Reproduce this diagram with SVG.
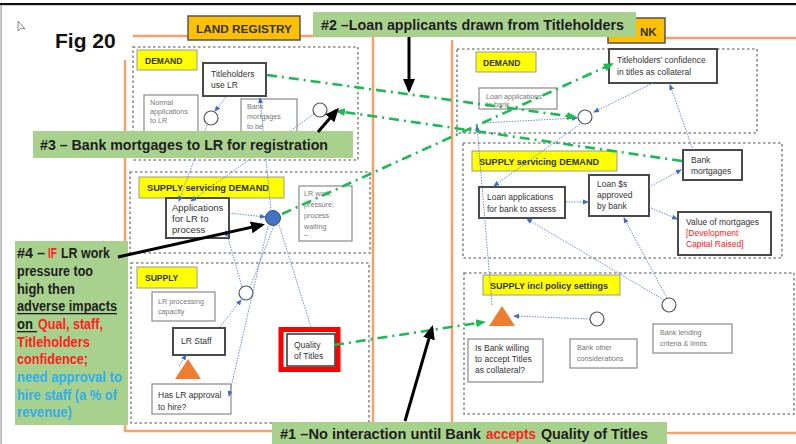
<svg xmlns="http://www.w3.org/2000/svg" width="796" height="444" viewBox="0 0 796 444">
<style>
text{font-family:"Liberation Sans",Arial,sans-serif;}
.frame{stroke:#F4A070;stroke-width:2.5;fill:none;}
.grp{fill:none;stroke:#8a8a8a;stroke-width:1.6;stroke-dasharray:2.5 2.5;}
.ylab{fill:#FFFF00;stroke:#9a9a9a;stroke-width:1;}
.ylt{font-size:8.5px;font-weight:bold;fill:#333;}
.thick{fill:#fff;stroke:#4a4a4a;stroke-width:2;}
.thin{fill:#fff;stroke:#8a8a8a;stroke-width:1.2;}
.nt{font-size:8.5px;fill:#333;}
.gt{font-size:7.2px;fill:#777;}
.circ{fill:#fff;stroke:#555;stroke-width:1.2;}
.blue{fill:none;stroke:#5B82D0;stroke-width:0.9;stroke-dasharray:1.5 1.2;marker-end:url(#mb);}
.bluen{fill:none;stroke:#5B82D0;stroke-width:0.9;stroke-dasharray:1.5 1.2;}
.green{fill:none;stroke:#1DB954;stroke-width:2.6;stroke-dasharray:10 5 2 5;marker-end:url(#mg);}
.ann{fill:#A9D18E;}
.at{font-size:15px;font-weight:bold;fill:#1e1e1e;}
.a4{font-size:14px;font-weight:bold;fill:#1e1e1e;}
.red{fill:#FF2020;}
.cyan{fill:#33AEEA;}
.blk{stroke:#000;stroke-width:3;fill:none;marker-end:url(#mk);}
.tri{fill:#ED7D31;}
.hdr{fill:#FFC000;stroke:#555;stroke-width:1.5;}
</style>
<defs>
<marker id="mb" markerWidth="6" markerHeight="6" refX="5" refY="3" orient="auto" markerUnits="userSpaceOnUse"><path d="M0,0.5 L6,3 L0,5.5 Z" fill="#3C6CD0"/></marker>
<marker id="mg" markerWidth="10" markerHeight="10" refX="8" refY="5" orient="auto" markerUnits="userSpaceOnUse"><path d="M0,1 L10,5 L0,9 Z" fill="#1DB954"/></marker>
<marker id="mk" markerWidth="14" markerHeight="14" refX="11" refY="7" orient="auto" markerUnits="userSpaceOnUse"><path d="M0,1 L14,7 L0,13 Z" fill="#000"/></marker>
</defs>
<rect width="796" height="444" fill="#fff"/>
<rect x="0" y="3" width="796" height="2.2" fill="#111"/>
<rect x="0.5" y="5" width="1.2" height="439" fill="#9a9a9a"/>
<path d="M18,21 L18,31 L21,28 L25,29 Z" fill="#fff" stroke="#888" stroke-width="1"/>
<text x="55" y="48" font-size="21" font-weight="bold" fill="#111">Fig 20</text>

<g id="frames">
<path class="frame" d="M133,36 L373,36 L373,431 L125,431 L125,60"/>
<path class="frame" d="M452,40 L452,433 M665,38 L796,38 M667,433 L796,433"/>
</g>

<g id="land-registry-header"><rect class="hdr" x="188" y="16" width="112" height="24"/><text x="244" y="33" font-size="11.5" font-weight="bold" fill="#333" text-anchor="middle" textLength="96" lengthAdjust="spacingAndGlyphs">LAND REGISTRY</text></g>
<g id="bank-header"><rect class="hdr" x="608" y="18" width="57" height="25"/><text x="640" y="36" font-size="11.5" font-weight="bold" fill="#333">NK</text></g>

<!-- groups -->
<g id="lr-demand"><rect class="grp" x="133" y="47" width="225" height="113"/><rect class="ylab" x="137" y="50" width="60" height="20"/><text class="ylt" x="145" y="64">DEMAND</text></g>
<g id="lr-supply-servicing"><rect class="grp" x="130" y="172" width="240" height="81"/><rect class="ylab" x="139" y="177" width="145" height="21"/><text class="ylt" x="147" y="191" textLength="122" lengthAdjust="spacingAndGlyphs">SUPPLY servicing DEMAND</text></g>
<g id="lr-supply"><rect class="grp" x="131" y="263" width="238" height="160"/><rect class="ylab" x="137" y="267" width="60" height="21"/><text class="ylt" x="145" y="281">SUPPLY</text></g>
<g id="bank-demand"><rect class="grp" x="457" y="49" width="300" height="84"/><rect class="ylab" x="476" y="52" width="60" height="20"/><text class="ylt" x="483" y="66">DEMAND</text></g>
<g id="bank-supply-servicing"><rect class="grp" x="463" y="143" width="319" height="115"/><rect class="ylab" x="472" y="151" width="145" height="20"/><text class="ylt" x="479" y="165" textLength="120" lengthAdjust="spacingAndGlyphs">SUPPLY servicing DEMAND</text></g>
<g id="bank-supply-policy"><rect class="grp" x="464" y="273" width="330" height="141"/><rect class="ylab" x="483" y="275" width="137" height="20"/><text class="ylt" x="490" y="289" textLength="118" lengthAdjust="spacingAndGlyphs">SUPPLY incl policy settings</text></g>

<!-- LR nodes -->
<g id="titleholders-use-lr"><rect class="thick" x="203" y="63" width="63" height="33"/><text class="nt" x="211" y="77">Titleholders</text><text class="nt" x="211" y="88">use LR</text></g>
<g id="normal-applications"><rect class="thin" x="144" y="95" width="54" height="42"/><text class="gt" x="150" y="105">Normal</text><text class="gt" x="150" y="114">applications</text><text class="gt" x="150" y="123">to LR</text></g>
<g id="bank-mortgages-lr"><rect class="thin" x="241" y="99" width="56" height="38"/><text class="gt" x="247" y="109">Bank</text><text class="gt" x="247" y="119">mortgages</text><text class="gt" x="247" y="129">to be</text></g>
<g id="c-lr-1"><circle class="circ" cx="211" cy="118" r="7"/></g>
<g id="c-lr-2"><circle class="circ" cx="320" cy="110" r="7"/></g>
<g id="applications-lr"><rect class="thick" x="166" y="198" width="63" height="40"/><text x="172" y="211" font-size="9.5" fill="#333">Applications</text><text x="172" y="222" font-size="9.5" fill="#333">for LR to</text><text x="172" y="233" font-size="9.5" fill="#333">process</text></g>
<g id="work-pressure-circle"><circle cx="273" cy="218" r="7.5" fill="#4472C4" stroke="#2F528F" stroke-width="1"/></g>
<g id="lr-work-pressure"><rect class="thin" x="299" y="186" width="53" height="55"/><text class="gt" x="304" y="196">LR work</text><text class="gt" x="304" y="207">pressure;</text><text class="gt" x="304" y="218">process</text><text class="gt" x="304" y="229">waiting</text><text class="gt" x="304" y="237">–</text></g>
<g id="lr-processing-capacity"><rect class="thin" x="152" y="292" width="63" height="29"/><text class="gt" x="158" y="304">LR processing</text><text class="gt" x="158" y="314">capacity</text></g>
<g id="c-lr-3"><circle class="circ" cx="246" cy="293" r="7"/></g>
<g id="lr-staff"><rect class="thick" x="173" y="328" width="52" height="27"/><text class="nt" x="181" y="344">LR Staff</text></g>
<g id="lr-triangle"><polygon class="tri" points="188,359 175,379 201,379"/></g>
<g id="has-lr-approval"><rect class="thin" x="152" y="384" width="79" height="30"/><text class="nt" x="158" y="398">Has LR approval</text><text class="nt" x="158" y="410">to hire?</text></g>
<g id="quality-of-titles"><rect x="281" y="329.5" width="57" height="40" fill="#fff" stroke="#FF0000" stroke-width="5"/><rect x="287" y="334" width="48" height="32" fill="none" stroke="#333" stroke-width="1.5"/><text class="nt" x="294" y="348">Quality</text><text class="nt" x="294" y="359">of Titles</text></g>

<!-- Bank nodes -->
<g id="titleholders-confidence"><rect class="thick" x="609" y="49" width="108" height="34"/><text class="nt" x="617" y="63">Titleholders' confidence</text><text class="nt" x="617" y="75">in titles as collateral</text></g>
<g id="loan-applications-to-bank"><rect class="thin" x="479" y="88" width="78" height="21"/><text class="gt" x="486" y="99">Loan applications</text><text class="gt" x="486" y="107">to bank</text></g>
<g id="c-bank-1"><circle class="circ" cx="585" cy="117" r="7"/></g>
<g id="bank-mortgages"><rect class="thick" x="683" y="150" width="59" height="30"/><text class="nt" x="691" y="163">Bank</text><text class="nt" x="691" y="174">mortgages</text></g>
<g id="loan-applications-assess"><rect class="thick" x="479" y="187" width="86" height="31"/><text class="nt" x="487" y="200">Loan applications</text><text class="nt" x="487" y="212">for bank to assess</text></g>
<g id="loan-approved"><rect class="thick" x="589" y="175" width="60" height="41"/><text class="nt" x="597" y="187">Loan $s</text><text class="nt" x="597" y="198">approved</text><text class="nt" x="597" y="209">by bank</text></g>
<g id="value-of-mortgages"><rect class="thick" x="678" y="212" width="93" height="43"/><text class="nt" x="686" y="225">Value of mortgages</text><text class="nt red" x="686" y="236">[Development</text><text class="nt red" x="686" y="247">Capital Raised]</text></g>
<g id="bank-triangle"><polygon class="tri" points="502,306 489,326 515,326"/></g>
<g id="c-bank-2"><circle class="circ" cx="597" cy="319" r="7"/></g>
<g id="c-bank-3"><circle class="circ" cx="669" cy="305" r="7"/></g>
<g id="bank-willing"><rect class="thin" x="468" y="339" width="75" height="43"/><text class="nt" x="475" y="351">Is Bank willing</text><text class="nt" x="475" y="362">to accept Titles</text><text class="nt" x="475" y="373">as collateral?</text></g>
<g id="bank-other"><rect class="thin" x="570" y="339" width="67" height="29"/><text class="gt" x="577" y="350">Bank other</text><text class="gt" x="577" y="361">considerations</text></g>
<g id="bank-lending"><rect class="thin" x="653" y="324" width="79" height="29"/><text class="gt" x="660" y="335">Bank lending</text><text class="gt" x="660" y="346">criteria &amp; limits</text></g>

<g id="connectors">
<path class="blue" d="M226,97 L215,111"/>
<path class="blue" d="M271,211 L260,98"/>
<path class="blue" d="M207,125 L179,201"/>
<path class="blue" d="M314,114 L191,201"/>
<path class="blue" d="M229,213 L265,217"/>
<path class="blue" d="M242,287 L226,231"/>
<path class="blue" d="M268,226 L229,396"/>
<path class="bluen" d="M274,226 L250,287"/>
<path class="bluen" d="M279,225 L311,327"/>
<path class="blue" d="M220,327 L241,300"/>
<path class="blue" d="M179,366 L186,355"/>
<path class="blue" d="M653,83 L594,112"/>
<path class="blue" d="M693,150 L670,85"/>
<path class="blue" d="M580,124 L494,186"/>
<path class="blue" d="M492,305 L477,126"/>
<path class="blue" d="M482,123 L577,118"/>
<path class="blue" d="M566,202 L588,202"/>
<path class="blue" d="M649,187 L681,170"/>
<path class="blue" d="M649,207 L677,219"/>
<path class="blue" d="M664,300 L527,219"/>
<path class="blue" d="M667,298 L624,218"/>
<path class="blue" d="M590,319 L514,316"/>
<path class="green" d="M267,75 L575,117"/>
<path class="green" d="M682,161 L337,111"/>
<path class="green" d="M282,214 L612,64"/>
<path class="green" d="M334,345 L484,322"/>
</g>

<g id="note-2"><rect class="ann" x="313" y="12" width="323" height="25"/><text class="at" x="321" y="30" textLength="303" lengthAdjust="spacingAndGlyphs">#2 –Loan applicants drawn from Titleholders</text></g>
<g id="note-3"><rect class="ann" x="33" y="131" width="320" height="27"/><text class="at" x="40" y="150" textLength="288" lengthAdjust="spacingAndGlyphs">#3 – Bank mortgages to LR for registration</text></g>
<g id="note-1"><rect class="ann" x="272" y="422" width="395" height="24"/><text class="at" x="280" y="439" textLength="201" lengthAdjust="spacingAndGlyphs">#1 –No interaction until Bank</text><text class="at red" x="486" y="439" textLength="50" lengthAdjust="spacingAndGlyphs">accepts</text><text class="at" x="541" y="439" textLength="107" lengthAdjust="spacingAndGlyphs">Quality of Titles</text></g>
<g id="note-4"><rect class="ann" x="15" y="241" width="113" height="184"/>
<text class="a4" x="17" y="258" textLength="28" lengthAdjust="spacingAndGlyphs">#4 –</text>
<text class="a4 red" x="48" y="258" textLength="9" lengthAdjust="spacingAndGlyphs">IF</text>
<text class="a4" x="61" y="258" textLength="49" lengthAdjust="spacingAndGlyphs">LR work</text>
<text class="a4" x="17" y="276" textLength="76" lengthAdjust="spacingAndGlyphs">pressure too</text>
<text class="a4" x="17" y="294" textLength="58" lengthAdjust="spacingAndGlyphs">high then</text>
<text class="a4" x="17" y="311" textLength="100" lengthAdjust="spacingAndGlyphs">adverse impacts</text>
<rect x="17" y="313" width="100" height="1.3" fill="#1e1e1e"/>
<text class="a4" x="17" y="329" textLength="16" lengthAdjust="spacingAndGlyphs">on</text>
<rect x="17" y="331" width="20" height="1.3" fill="#1e1e1e"/>
<text class="a4 red" x="38" y="329" textLength="65" lengthAdjust="spacingAndGlyphs">Qual, staff,</text>
<text class="a4 red" x="17" y="347" textLength="73" lengthAdjust="spacingAndGlyphs">Titleholders</text>
<text class="a4 red" x="17" y="364" textLength="71" lengthAdjust="spacingAndGlyphs">confidence;</text>
<text class="a4 cyan" x="17" y="382" textLength="105" lengthAdjust="spacingAndGlyphs">need approval to</text>
<text class="a4 cyan" x="17" y="400" textLength="100" lengthAdjust="spacingAndGlyphs">hire staff (a % of</text>
<text class="a4 cyan" x="17" y="417" textLength="55" lengthAdjust="spacingAndGlyphs">revenue)</text>
</g>

<g id="pointer-arrows">
<path class="blk" d="M409,37 L409,90"/>
<path class="blk" d="M318,132 L337,110"/>
<path class="blk" d="M118,257 L262,225"/>
<path class="blk" d="M405,421 L432,328"/>
</g>
</svg>
